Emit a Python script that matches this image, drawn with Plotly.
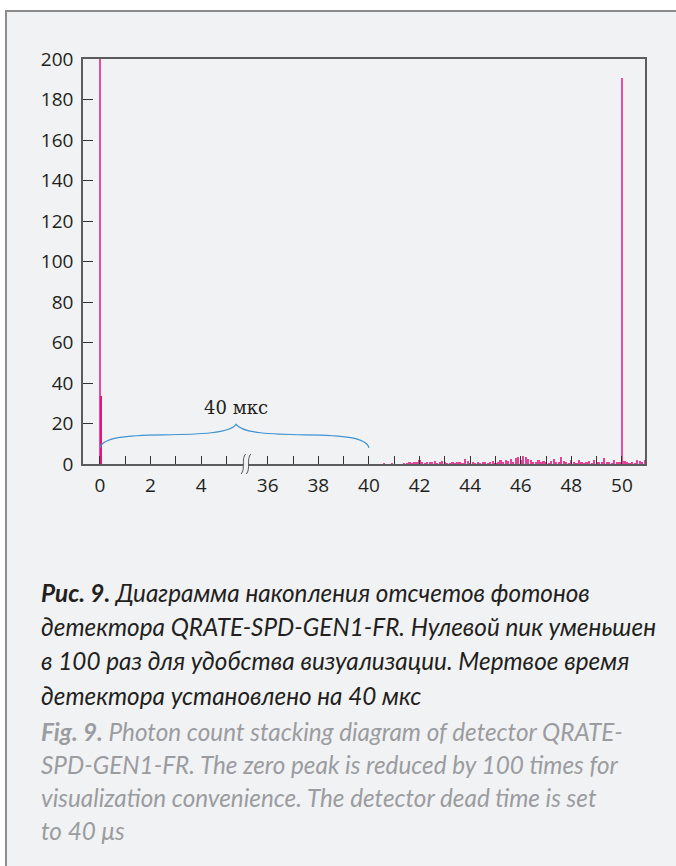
import plotly.graph_objects as go

# ---------------- data ----------------
# real time values (microseconds); the axis is broken between 5 and 36 us
BREAK_OFFSET = 29.37
zero_peak_time = [0.0]
zero_peak_count = [215]          # zero peak, reduced 100x (clipped at 200)
near_zero_time = [0.04]
near_zero_count = [33.5]

noise_time = [round(40.6 + 0.1 * i, 1) for i in range(104)]
noise_count = [
    0.3, 0, 0, 0.2, 0, 0, 0, 0, 0.3, 0.3,
    0.5, 0.3, 1.0, 0.5, 1.8, 0.5, 0.3, 1.2, 0.8, 0.5,
    1.3, 0.3, 0.8, 1.5, 0.5, 0.3, 0.2, 0.5, 0.3, 0.5,
    1.0, 0.3, 2.5, 1.5, 0.3, 0.5, 0.2, 0.5, 0.3, 1.0,
    0.5, 0.3, 0.8, 1.5, 0.2, 0.5, 2.0, 1.2, 2.2, 1.5,
    2.5, 1.2, 3.0, 3.5, 2.2, 3.8, 3.5, 2.5, 1.8, 1.0,
    1.0, 2.2, 0.5, 1.5, 0.8, 0.3, 1.5, 2.5, 0.5, 1.2,
    3.5, 1.5, 0.5, 0.3, 2.0, 1.0, 0.3, 1.8, 0.5, 0.3,
    0.5, 1.5, 0.3, 2.0, 0.8, 0.5, 1.0, 3.0, 1.2, 0.5,
    0.3, 2.0, 1.0, 0.5, 0.0, 1.5, 0.8, 0.3, 0.5, 0.3,
    2.0, 1.5, 1.0, 2.2,
]
second_peak_time = [50.0]
second_peak_count = [190.5]

tick_times = [0, 1, 2, 3, 4, 5] + list(range(36, 51))
tick_labels = [str(t) if t % 2 == 0 else "" for t in tick_times]
y_ticks = list(range(0, 201, 20))

dead_time_label = "40 мкс"
caption_ru = [
    "<b>Рис. 9.</b> Диаграмма накопления отсчетов фотонов",
    "детектора QRATE-SPD-GEN1-FR. Нулевой пик уменьшен",
    "в 100 раз для удобства визуализации. Мертвое время",
    "детектора установлено на 40 мкс",
]
caption_en = [
    "<b>Fig. 9.</b> Photon count stacking diagram of detector QRATE-",
    "SPD-GEN1-FR. The zero peak is reduced by 100 times for",
    "visualization convenience. The detector dead time is set",
    "to 40 μs",
]


def to_axis(t):
    return t if t < 20 else t - BREAK_OFFSET


# ---------------- layout geometry ----------------
W, H = 676, 866
ML, MR, MT, MB = 83, 31, 59, 402
PW = W - ML - MR
PH = H - MT - MB
XMIN, XMAX = -0.67, 21.54


def px_x(px):
    return (px - ML) / PW


def px_y(py):
    return (H - MB - py) / PH


def ax_to_paper(p):
    return (p - XMIN) / (XMAX - XMIN)


BG = "#f1f2f4"
PINK = "#ef4a9d"
MAGENTA = "#e3157f"
TXT = "#231f20"

fig = go.Figure()

fig.add_trace(go.Bar(
    x=[to_axis(t) for t in noise_time], y=noise_count, width=0.085,
    marker=dict(color=MAGENTA, line=dict(width=0)), opacity=0.8,
    showlegend=False, hoverinfo="skip"))
fig.add_trace(go.Bar(
    x=[to_axis(t) for t in zero_peak_time], y=zero_peak_count, width=0.06,
    marker=dict(color=PINK, line=dict(width=0)), showlegend=False))
fig.add_trace(go.Bar(
    x=[to_axis(t) for t in near_zero_time], y=near_zero_count, width=0.07,
    marker=dict(color=MAGENTA, line=dict(width=0)), showlegend=False))
fig.add_trace(go.Bar(
    x=[to_axis(t) for t in second_peak_time], y=second_peak_count, width=0.07,
    marker=dict(color=PINK, line=dict(width=0)), showlegend=False))

shapes = []
# panel background with border
shapes.append(dict(type="rect", xref="paper", yref="paper", layer="below",
                   x0=px_x(6), x1=px_x(W + 20), y0=px_y(H + 20), y1=px_y(11),
                   fillcolor=BG, line=dict(color="#8c8c8c", width=2)))

# curly brace (dead time) in data coordinates
b0, b1 = to_axis(0.0), to_axis(40.0)
bm = 5.38
path = (f"M {b0},8 C {b0+0.1},13 {b0+1.0},14.2 {b0+2.5},14.4 "
        f"C {bm-1.4},14.6 {bm-0.25},15.2 {bm},19.6 "
        f"C {bm+0.25},15.2 {bm+1.4},14.6 {b1-2.5},14.4 "
        f"C {b1-1.0},14.2 {b1-0.1},13 {b1},8")
shapes.append(dict(type="path", xref="x", yref="y", path=path,
                   line=dict(color="#3f93d2", width=1.2)))

# axis-break symbol
bx = ax_to_paper(5.77)
dxp = 2.6 / PW
ya, yb = px_y(454), px_y(474)
yc1, yc2 = px_y(459), px_y(469)
shapes.append(dict(type="rect", xref="paper", yref="paper",
                   x0=bx - dxp, x1=bx + dxp, y0=px_y(466), y1=px_y(462),
                   fillcolor=BG, line=dict(width=0)))
for s in (-1, 1):
    xc = bx + s * dxp
    w = 2.2 / PW
    shapes.append(dict(type="path", xref="paper", yref="paper",
                       path=f"M {xc + w},{ya} C {xc - w},{yc1} {xc + w},{yc2} {xc - w},{yb}",
                       line=dict(color="#555555", width=1)))

annotations = [
    dict(x=bm, y=27.8, xref="x", yref="y", text=dead_time_label, showarrow=False,
         font=dict(family="DejaVu Serif", size=18, color=TXT)),
]

ru_y = [592, 626, 660, 695]
en_y = [731, 764, 797, 830]
for txt, yy in zip(caption_ru, ru_y):
    annotations.append(dict(x=px_x(39), y=px_y(yy), xref="paper", yref="paper",
                            xanchor="left", yanchor="middle", showarrow=False,
                            text=f"<i>{txt}</i>",
                            font=dict(family="Lato", size=24.3, color=TXT)))
for txt, yy in zip(caption_en, en_y):
    annotations.append(dict(x=px_x(39), y=px_y(yy), xref="paper", yref="paper",
                            xanchor="left", yanchor="middle", showarrow=False,
                            text=f"<i>{txt}</i>",
                            font=dict(family="Lato", size=24.3, color="#9b9c9f")))

fig.update_layout(
    width=W, height=H,
    margin=dict(l=ML, r=MR, t=MT, b=MB, pad=0),
    paper_bgcolor="white", plot_bgcolor=BG,
    bargap=0, barmode="overlay",
    shapes=shapes, annotations=annotations,
    font=dict(family="Open Sans", color=TXT),
)
fig.update_xaxes(
    range=[XMIN, XMAX], tickmode="array",
    tickvals=[to_axis(t) for t in tick_times], ticktext=tick_labels,
    ticks="inside", ticklen=8, tickwidth=1, tickcolor="#333333",
    showline=True, linecolor="#5c5c5c", linewidth=1.5, mirror=True,
    showgrid=False, zeroline=False, ticklabelstandoff=3,
    tickfont=dict(size=19, color=TXT, family="Open Sans"),
)
fig.update_yaxes(
    range=[0, 200], tickmode="array", tickvals=y_ticks,
    ticks="inside", ticklen=10, tickwidth=1.3, tickcolor="#333333",
    showline=True, linecolor="#5c5c5c", linewidth=1.5, mirror=True,
    showgrid=False, zeroline=False, ticklabelstandoff=4,
    tickfont=dict(size=19, color=TXT, family="Open Sans"),
)

fig.write_html("out.html", config={"displayModeBar": False},
               post_script="document.body.style.margin='0';document.body.style.overflow='hidden';")
